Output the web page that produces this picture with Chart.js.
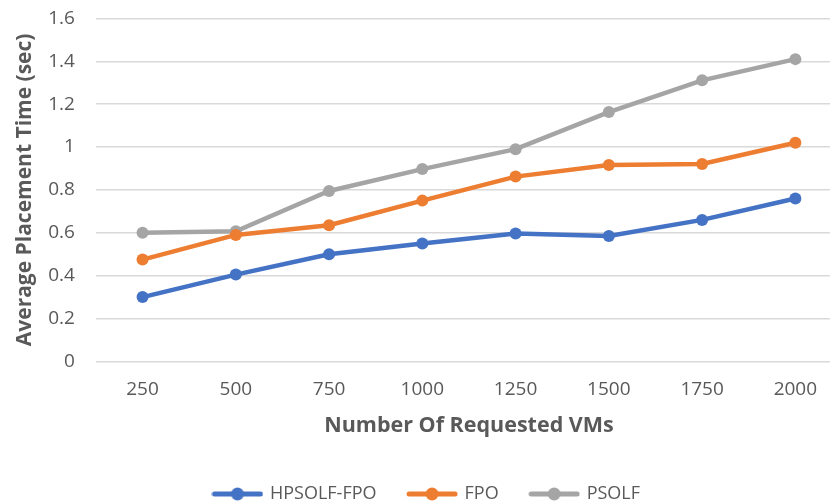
<!DOCTYPE html>
<html>
<head>
<meta charset="utf-8">
<script src="https://cdn.jsdelivr.net/npm/chart.js@4"></script>
<style>
  html, body { margin: 0; padding: 0; background: #fff; overflow: hidden; }
  #wrap { width: 850px; height: 518px; margin-top: -14px; }
</style>
</head>
<body>
<div id="wrap"><canvas id="placementChart"></canvas></div>
<script>
// requested VM counts on the x axis
const VM_COUNTS = ['250', '500', '750', '1000', '1250', '1500', '1750', '2000'];

// average placement time (sec)
const HPSOLF_FPO = [0.30, 0.405, 0.50, 0.55, 0.597, 0.585, 0.66, 0.76];
const FPO = [0.475, 0.59, 0.635, 0.75, 0.862, 0.916, 0.921, 1.02];
const PSOLF = [0.60, 0.607, 0.795, 0.897, 0.99, 1.163, 1.311, 1.41];

const BLUE = '#4472C4';
const ORANGE = '#ED7D31';
const GRAY = '#A5A5A5';
const TEXT = '#595959';
const GRID = '#D9D9D9';
const FONT = 'Open Sans';

// legend marker: short line with a dot in the middle, like Excel
function legendMarker(color) {
  const c = document.createElement('canvas');
  c.width = 52; c.height = 14;
  const ctx = c.getContext('2d');
  ctx.strokeStyle = color;
  ctx.lineWidth = 5;
  ctx.lineCap = 'round';
  ctx.beginPath(); ctx.moveTo(3, 7); ctx.lineTo(49, 7); ctx.stroke();
  ctx.fillStyle = color;
  ctx.beginPath(); ctx.arc(26, 7, 6.5, 0, Math.PI * 2); ctx.fill();
  return c;
}

function series(label, data, color) {
  return {
    label: label,
    data: data,
    borderColor: color,
    backgroundColor: color,
    borderWidth: 4.5,
    pointRadius: 6,
    pointHoverRadius: 6,
    pointBorderWidth: 0,
    pointStyle: 'circle',
    tension: 0,
  };
}

new Chart(document.getElementById('placementChart'), {
  type: 'line',
  data: {
    labels: VM_COUNTS,
    datasets: [
      series('HPSOLF-FPO', HPSOLF_FPO, BLUE),
      series('FPO', FPO, ORANGE),
      series('PSOLF', PSOLF, GRAY),
    ],
  },
  options: {
    responsive: true,
    maintainAspectRatio: false,
    animation: false,
    layout: { padding: { top: 0, right: 8, left: 12, bottom: -9 } },
    plugins: {
      tooltip: { enabled: false },
      legend: {
        position: 'bottom',
        labels: {
          usePointStyle: true,
          pointStyleWidth: 47,
          color: TEXT,
          font: { family: FONT, size: 18 },
          padding: 32,
          generateLabels(chart) {
            return Chart.defaults.plugins.legend.labels.generateLabels(chart).map(item => {
              const ds = chart.data.datasets[item.datasetIndex];
              item.pointStyle = legendMarker(ds.borderColor);
              return item;
            });
          },
        },
      },
    },
    scales: {
      x: {
        offset: true,
        grid: { display: false },
        border: { display: false },
        ticks: { color: TEXT, font: { family: FONT, size: 19 }, padding: 9 },
        title: {
          display: true,
          text: 'Number Of Requested VMs',
          color: TEXT,
          font: { family: FONT, size: 21.5, weight: 'bold' },
          padding: { top: 3, bottom: 14 },
        },
      },
      y: {
        min: 0,
        max: 1.6,
        ticks: {
          stepSize: 0.2,
          color: TEXT,
          font: { family: FONT, size: 19 },
          padding: 21,
          callback: v => String(Math.round(v * 10) / 10),
        },
        grid: { color: GRID, lineWidth: 1.5, drawTicks: false },
        border: { display: false },
        title: {
          display: true,
          text: 'Average Placement Time (sec)',
          color: TEXT,
          font: { family: FONT, size: 21, weight: 'bold' },
          padding: { top: 0, bottom: -10 },
        },
      },
    },
  },
});
</script>
</body>
</html>
